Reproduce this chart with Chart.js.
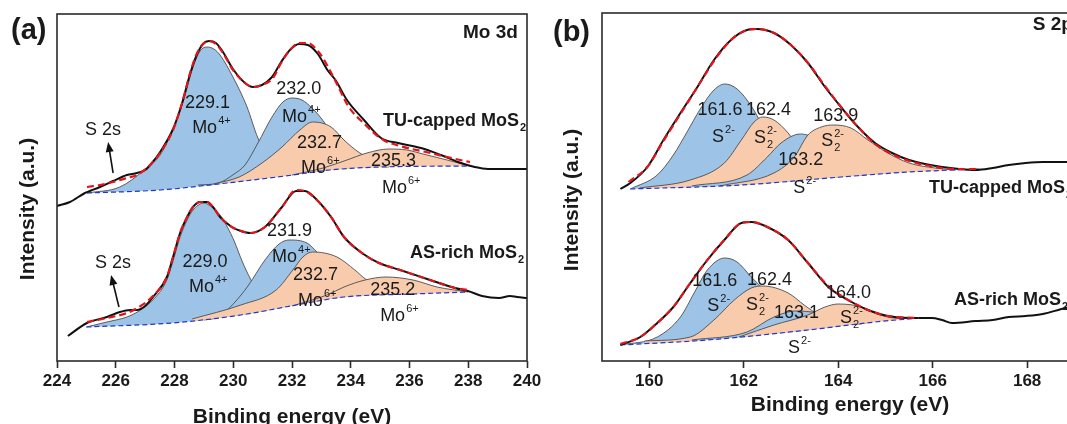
<!DOCTYPE html>
<html>
<head>
<meta charset="utf-8">
<script src="https://cdn.jsdelivr.net/npm/chart.js@4.4.1/dist/chart.umd.min.js"></script>
<style>
  html, body { margin: 0; padding: 0; width: 1067px; height: 424px; overflow: hidden; background: #fff; }
  canvas { position: absolute; top: 0; }
  #moChart { left: 0; }
  #sChart { left: 550px; }
</style>
</head>
<body>
<canvas id="moChart" width="545" height="424"></canvas>
<canvas id="sChart" width="580" height="424"></canvas>
<script>
// ---- Mo 3d panel: [binding energy (eV), intensity (a.u.)] ----
const moTicks = [224, 226, 228, 230, 232, 234, 236, 238, 240];

const tuMoRaw = [[224.00,155],[224.44,159],[224.95,168],[225.12,170],[225.46,174],[225.91,180],[226.38,186],[226.72,188],[227.00,191],[227.23,198],[227.51,209],[227.95,232],[228.26,258],[228.53,287],[228.77,307],[228.97,317],[229.17,320],[229.41,318],[229.65,309],[229.99,292],[230.40,278],[230.67,274],[230.98,276],[231.32,284],[231.63,299],[231.93,311],[232.24,317],[232.54,316],[232.88,307],[233.23,290],[233.48,281],[233.87,261],[234.45,241],[235.03,223],[235.61,218],[236.39,213],[237.07,206],[237.65,199],[238.22,194],[238.67,192],[239.25,192],[240.00,192]];
const tuMoFit = [[225.02,174],[225.46,176],[225.91,179],[226.38,183],[226.72,186],[227.06,193],[227.51,208],[227.95,231],[228.26,258],[228.53,288],[228.77,308],[228.97,317],[229.17,320],[229.41,317],[229.65,308],[229.99,291],[230.40,278],[230.67,274],[230.98,276],[231.35,283],[231.63,298],[231.93,311],[232.24,318],[232.54,318],[232.88,310],[233.23,294],[233.58,274],[233.91,255],[234.43,238],[235.11,221],[235.68,215],[236.70,208],[237.72,201],[238.06,199]];
const tuMoBase = [[225.02,168],[227.51,171],[229.79,178],[232.03,186],[233.29,191],[235.00,194],[238.06,195]];
const tuMoPeak1 = [[225.02,168],[226.14,174],[226.93,190],[227.51,206],[227.95,232],[228.29,259],[228.63,294],[228.87,310],[229.10,314],[229.34,312],[229.55,306],[229.99,284],[230.47,254],[230.84,223],[231.25,203],[231.76,193],[232.30,188],[233.00,190]];
const tuMoPeak2 = [[228.80,176],[229.50,178],[230.03,187],[230.40,196],[230.84,218],[231.32,244],[231.69,259],[232.00,263],[232.34,261],[232.68,253],[233.09,239],[233.46,221],[233.91,203],[234.49,196],[235.30,194]];
const tuMoPeak3 = [[229.34,177],[230.20,184],[230.98,198],[231.66,214],[232.27,231],[232.70,239],[233.33,234],[233.77,221],[234.31,208],[235.00,199],[235.68,195]];
const tuMoPeak4 = [[232.00,186],[233.06,193],[233.87,201],[234.55,208],[235.30,212],[235.91,211],[236.46,207],[237.28,201],[238.06,195]];

const asMoRaw = [[224.37,25],[225.02,38],[225.70,44],[226.14,49],[226.49,51],[226.72,51],[227.00,55],[227.27,64],[227.74,84],[227.95,104],[228.19,128],[228.43,144],[228.63,154],[228.87,159],[229.11,159],[229.31,154],[229.55,144],[229.95,134],[230.26,130],[230.57,128],[231.08,134],[231.66,154],[232.14,170],[232.44,170],[232.85,161],[233.33,144],[233.77,124],[234.38,108],[234.96,98],[235.68,91],[236.70,81],[237.55,73],[237.99,70],[238.47,65],[239.05,63],[239.42,65],[239.66,64],[240.00,63]];
const asMoFit = [[225.02,39],[225.70,43],[226.38,48],[226.79,54],[227.23,64],[227.74,84],[227.95,104],[228.19,128],[228.43,144],[228.63,154],[228.87,159],[229.11,159],[229.31,154],[229.55,144],[229.95,134],[230.26,130],[230.57,128],[231.08,134],[231.66,154],[232.14,171],[232.44,170],[232.85,161],[233.33,144],[233.77,124],[234.38,108],[234.96,98],[235.68,91],[236.70,81],[237.55,73],[237.99,71]];
const asMoBase = [[225.00,34],[227.91,38],[230.26,46],[232.14,56],[233.77,64],[236.12,67],[237.99,69]];
const asMoPeak1 = [[225.00,34],[225.70,39],[226.38,44],[226.79,50],[227.23,60],[227.74,81],[227.95,100],[228.19,124],[228.43,141],[228.63,151],[228.87,157],[229.00,158],[229.11,157],[229.31,153],[229.55,146],[229.80,134],[230.03,120],[230.30,100],[230.57,83],[231.00,63],[231.50,54],[232.00,56]];
const asMoPeak2 = [[229.00,41],[229.50,44],[230.03,58],[230.50,75],[231.08,101],[231.56,117],[231.90,121],[232.51,118],[232.78,111],[233.29,96],[233.80,81],[234.38,71],[234.99,66]];
const asMoPeak3 = [[228.60,42],[230.26,56],[231.46,71],[232.03,91],[232.37,104],[232.70,109],[233.53,104],[234.14,91],[234.55,81],[235.33,73],[236.36,68]];
const asMoPeak4 = [[232.00,55],[233.19,66],[233.77,74],[234.49,81],[235.20,84],[236.12,81],[236.94,74],[237.99,69]];

// ---- S 2p panel ----
const sTicks = [160, 162, 164, 166, 168];

const tuSRaw = [[159.39,172],[159.60,178],[159.96,194],[160.30,221],[160.66,248],[161.02,274],[161.37,301],[161.73,321],[162.07,331],[162.28,332],[162.64,328],[163.00,316],[163.36,298],[163.72,274],[164.06,254],[164.42,234],[164.78,218],[165.14,208],[165.50,201],[165.84,197],[166.20,194],[166.56,192],[166.91,191],[167.27,193],[167.61,196],[167.97,198],[168.33,199],[168.82,199],[169.50,199]];
const tuSFit = [[159.56,179],[159.96,194],[160.30,220],[160.66,247],[161.02,274],[161.37,300],[161.73,321],[162.07,331],[162.28,332],[162.64,328],[163.00,316],[163.36,298],[163.72,275],[164.06,254],[164.42,234],[164.78,217],[165.14,207],[165.50,200],[165.84,196],[166.20,193],[166.56,192],[166.98,192]];
const tuSBase = [[159.60,172],[161.95,176],[164.06,184],[165.50,189],[166.98,192]];
const tuSPeak1 = [[159.60,172],[160.17,186],[160.51,206],[160.80,229],[161.08,252],[161.37,271],[161.60,277],[161.86,272],[162.16,255],[162.43,233],[162.75,212],[163.17,194],[163.59,186],[164.02,184]];
const tuSPeak2 = [[159.80,173],[160.87,181],[161.59,198],[161.95,221],[162.22,239],[162.40,244],[162.64,241],[162.94,228],[163.17,213],[163.49,198],[163.91,187],[164.60,186]];
const tuSPeak3 = [[160.90,175],[162.07,186],[162.50,204],[162.79,218],[163.20,227],[163.57,221],[163.85,208],[164.21,196],[164.78,190],[165.30,189]];
const tuSPeak4 = [[161.50,175],[162.64,188],[163.07,204],[163.36,226],[163.64,234],[163.90,236],[164.27,233],[164.63,221],[165.05,208],[165.50,198],[166.05,193],[166.49,191]];

const asSRaw = [[159.39,16],[159.81,24],[160.17,38],[160.51,54],[160.87,78],[161.23,101],[161.59,121],[161.95,138],[162.16,139],[162.50,134],[162.94,121],[163.36,98],[163.79,74],[164.21,61],[164.63,51],[165.05,45],[165.50,43],[165.98,43],[166.20,41],[166.41,38],[166.91,40],[167.27,41],[167.61,44],[167.97,45],[168.33,47],[168.82,53],[169.50,58]];
const asSFit = [[159.39,17],[159.81,24],[160.17,38],[160.51,54],[160.87,78],[161.23,101],[161.59,121],[161.95,138],[162.16,139],[162.50,134],[162.94,121],[163.36,98],[163.79,75],[164.21,61],[164.63,51],[165.05,45],[165.71,43]];
const asSBase = [[159.39,16],[161.23,21],[163.36,31],[164.78,39],[165.71,43]];
const asSPeak1 = [[159.39,16],[160.17,24],[160.66,44],[160.95,68],[161.23,91],[161.60,103],[161.86,99],[162.16,84],[162.37,74],[162.75,56],[163.17,43],[163.81,35]];
const asSPeak2 = [[159.90,20],[160.87,24],[161.37,41],[161.80,61],[162.16,73],[162.40,75],[162.94,68],[163.28,56],[163.59,46],[164.12,37],[164.50,37]];
const asSPeak3 = [[160.90,21],[162.07,29],[162.64,44],[163.10,50],[163.57,48],[163.85,44],[164.27,39],[164.60,38]];
const asSPeak4 = [[161.90,24],[162.64,36],[163.36,46],[163.72,54],[164.00,57],[164.50,54],[164.78,48],[165.20,43],[165.71,43]];

// peak labels, in data coordinates (left edge / baseline of the text)
const moLabels = [
  {x: 224.95, y: 226, text: 'S 2s'},
  {x: 228.36, y: 253, text: '229.1'},
  {x: 228.60, y: 228, text: 'Mo^{4+}'},
  {x: 231.46, y: 267, text: '232.0'},
  {x: 231.66, y: 239, text: 'Mo^{4+}'},
  {x: 232.17, y: 213, text: '232.7'},
  {x: 232.31, y: 188, text: 'Mo^{6+}'},
  {x: 234.69, y: 195, text: '235.3'},
  {x: 235.06, y: 168, text: 'Mo^{6+}'},
  {x: 235.10, y: 235, text: 'TU-capped MoS_{2}', bold: true},
  {x: 239.69, y: 323, text: 'Mo 3d', bold: true, size: 19, align: 'right'},
  {x: 225.29, y: 93, text: 'S 2s'},
  {x: 228.27, y: 94, text: '229.0'},
  {x: 228.49, y: 69, text: 'Mo^{4+}'},
  {x: 231.15, y: 125, text: '231.9'},
  {x: 231.32, y: 99, text: 'Mo^{4+}'},
  {x: 232.03, y: 81, text: '232.7'},
  {x: 232.20, y: 55, text: 'Mo^{6+}'},
  {x: 234.66, y: 66, text: '235.2'},
  {x: 235.00, y: 40, text: 'Mo^{6+}'},
  {x: 236.02, y: 103, text: 'AS-rich MoS_{2}', bold: true}
];
const moArrows = [
  {from: [225.91, 188], to: [225.74, 219]},
  {from: [226.11, 54], to: [225.84, 86]}
];

const sLabels = [
  {x: 161.02, y: 246, text: '161.6'},
  {x: 162.05, y: 246, text: '162.4'},
  {x: 161.33, y: 219, text: 'S^{2-}'},
  {x: 162.22, y: 218, text: 'S_{2}^{2-}'},
  {x: 163.47, y: 240, text: '163.9'},
  {x: 163.64, y: 215, text: 'S_{2}^{2-}'},
  {x: 162.73, y: 196, text: '163.2'},
  {x: 163.05, y: 168, text: 'S^{2-}'},
  {x: 165.92, y: 168, text: 'TU-capped MoS_{2}', bold: true},
  {x: 168.12, y: 331, text: 'S 2p', bold: true, size: 19},
  {x: 160.91, y: 75, text: '161.6'},
  {x: 162.07, y: 76, text: '162.4'},
  {x: 161.23, y: 50, text: 'S^{2-}'},
  {x: 162.05, y: 51, text: 'S_{2}^{2-}'},
  {x: 163.74, y: 63, text: '164.0'},
  {x: 164.04, y: 38, text: 'S_{2}^{2-}'},
  {x: 162.64, y: 43, text: '163.1'},
  {x: 162.94, y: 8, text: 'S^{2-}'},
  {x: 166.45, y: 56, text: 'AS-rich MoS_{2}', bold: true}
];

const FONT = '"Liberation Sans", Arial, sans-serif';
const BLUE = 'rgb(157,195,230)';
const PEACH = 'rgb(248,203,173)';
const INK = '#1a1a1a';

Chart.defaults.font.family = FONT;
Chart.defaults.color = INK;

// text with ^{sup} and _{sub} parts; a sub followed by a sup is stacked
function drawRichText(ctx, x, y, text, opt) {
  const size = opt.size || 18;
  const weight = opt.bold ? 'bold ' : '';
  const small = Math.round(size * 0.62);
  const runs = [];
  text.replace(/([\^_])\{([^}]*)\}|([^\^_]+)/g, (m, mark, inner, plain) => {
    if (plain) runs.push({text: plain, kind: 'base'});
    else runs.push({text: inner, kind: mark === '^' ? 'sup' : 'sub'});
    return m;
  });
  const fontFor = (kind) => weight + (kind === 'base' ? size : small) + 'px ' + FONT;

  let cursor = 0;
  const placed = [];
  for (let i = 0; i < runs.length; i++) {
    const r = runs[i];
    ctx.font = fontFor(r.kind);
    const w = ctx.measureText(r.text).width;
    const next = runs[i + 1];
    const gap = r.kind === 'base' ? 0 : 1;
    placed.push({...r, x: cursor + gap});
    if (r.kind !== 'base' && next && next.kind !== 'base' && next.kind !== r.kind) {
      ctx.font = fontFor(next.kind);
      const w2 = ctx.measureText(next.text).width;
      placed.push({...next, x: cursor + gap});
      cursor += Math.max(w, w2) + gap;
      i++;
    } else {
      cursor += w + gap;
    }
  }
  let start = x;
  if (opt.align === 'right') start = x - cursor;
  if (opt.align === 'center') start = x - cursor / 2;

  ctx.fillStyle = INK;
  ctx.textAlign = 'left';
  ctx.textBaseline = 'alphabetic';
  for (const p of placed) {
    ctx.font = fontFor(p.kind);
    let dy = 0;
    if (p.kind === 'sup') dy = -0.52 * size;
    if (p.kind === 'sub') dy = 0.3 * size;
    ctx.fillText(p.text, start + p.x, y + dy);
  }
}

function drawArrow(ctx, x1, y1, x2, y2) {
  const a = Math.atan2(y2 - y1, x2 - x1);
  const len = 10, half = 4;
  ctx.strokeStyle = '#111';
  ctx.fillStyle = '#111';
  ctx.lineWidth = 1.6;
  ctx.beginPath();
  ctx.moveTo(x1, y1);
  ctx.lineTo(x2 - len * 0.7 * Math.cos(a), y2 - len * 0.7 * Math.sin(a));
  ctx.stroke();
  ctx.beginPath();
  ctx.moveTo(x2, y2);
  ctx.lineTo(x2 - len * Math.cos(a) + half * Math.sin(a), y2 - len * Math.sin(a) - half * Math.cos(a));
  ctx.lineTo(x2 - len * Math.cos(a) - half * Math.sin(a), y2 - len * Math.sin(a) + half * Math.cos(a));
  ctx.closePath();
  ctx.fill();
}

// frame, peak labels, arrows, panel tag and vertical axis title
function makeDecorations(labels, arrows, tag, yTitle) {
  return {
    id: 'decorations',
    afterDraw(chart) {
      const {ctx, chartArea: area, scales: {x, y}} = chart;
      ctx.save();
      ctx.strokeStyle = '#2b2b2b';
      ctx.lineWidth = 1.6;
      ctx.strokeRect(area.left, area.top, area.right - area.left, area.bottom - area.top);

      for (const a of arrows) {
        drawArrow(ctx, x.getPixelForValue(a.from[0]), y.getPixelForValue(a.from[1]),
          x.getPixelForValue(a.to[0]), y.getPixelForValue(a.to[1]));
      }
      for (const l of labels) {
        drawRichText(ctx, x.getPixelForValue(l.x), y.getPixelForValue(l.y), l.text, l);
      }

      ctx.fillStyle = INK;
      ctx.font = 'bold 29px ' + FONT;
      ctx.textAlign = 'left';
      ctx.fillText(tag.text, tag.x, tag.y);

      ctx.translate(yTitle.x, yTitle.y);
      ctx.rotate(-Math.PI / 2);
      ctx.font = 'bold 21px ' + FONT;
      ctx.textAlign = 'center';
      ctx.textBaseline = 'alphabetic';
      ctx.fillText('Intensity (a.u.)', 0, 0);
      ctx.restore();
    }
  };
}

function spectrumSets(raw, fit, base, peaks, fills, first) {
  const baseIndex = first + 2;
  const common = {pointRadius: 0, cubicInterpolationMode: 'monotone', fill: false};
  const sets = [
    {...common, data: raw, borderColor: '#111', borderWidth: 2, order: 2},
    {...common, data: fit, borderColor: '#e3151b', borderWidth: 2.2, borderDash: [7, 4], order: 1},
    {...common, data: base, borderColor: '#2436c8', borderWidth: 1.2, borderDash: [5, 3], order: 3}
  ];
  peaks.forEach((p, i) => {
    sets.push({
      ...common,
      data: p,
      borderColor: '#4d4d4d',
      borderWidth: 0.9,
      backgroundColor: fills[i],
      fill: {target: baseIndex},
      order: 7 - i
    });
  });
  return sets;
}

function xScale(min, max, ticks, titlePadBottom) {
  return {
    type: 'linear',
    min: min,
    max: max,
    afterBuildTicks: (s) => { s.ticks = ticks.map((v) => ({value: v})); },
    afterFit: (s) => { s.height = 63; s.paddingLeft = 0; s.paddingRight = 0; },
    ticks: {font: {size: 17, weight: 'bold'}, color: INK, padding: 3, maxRotation: 0, autoSkip: false},
    grid: {display: true, drawOnChartArea: false, drawTicks: true, tickLength: 7, tickWidth: 1.6, tickColor: '#2b2b2b'},
    border: {display: false},
    title: {
      display: true,
      text: 'Binding energy (eV)',
      color: INK,
      font: {size: 21, weight: 'bold', lineHeight: 1},
      padding: {top: 0, bottom: titlePadBottom}
    }
  };
}

function drawPanel(canvasId, datasets, scaleX, yMax, padding, decorations) {
  const ctx = document.getElementById(canvasId).getContext('2d');
  return new Chart(ctx, {
    type: 'line',
    data: {datasets: datasets},
    options: {
      responsive: false,
      animation: false,
      events: [],
      layout: {padding: padding},
      plugins: {legend: {display: false}, tooltip: {enabled: false}},
      scales: {
        x: scaleX,
        y: {display: false, min: 0, max: yMax}
      }
    },
    plugins: [decorations]
  });
}

window.addEventListener('load', () => {
  const fills = [BLUE, BLUE, PEACH, PEACH];
  const moSets = spectrumSets(tuMoRaw, tuMoFit, tuMoBase, [tuMoPeak1, tuMoPeak2, tuMoPeak3, tuMoPeak4], fills, 0)
    .concat(spectrumSets(asMoRaw, asMoFit, asMoBase, [asMoPeak1, asMoPeak2, asMoPeak3, asMoPeak4], fills, 7));
  drawPanel('moChart', moSets, xScale(224, 240, moTicks, -4), 347,
    {left: 57, right: 18, top: 14, bottom: 0},
    makeDecorations(moLabels, moArrows, {text: '(a)', x: 11, y: 39}, {x: 34, y: 209}));

  const sFills = [BLUE, PEACH, BLUE, PEACH];
  const sSets = spectrumSets(tuSRaw, tuSFit, tuSBase, [tuSPeak1, tuSPeak2, tuSPeak3, tuSPeak4], sFills, 0)
    .concat(spectrumSets(asSRaw, asSFit, asSBase, [asSPeak1, asSPeak2, asSPeak3, asSPeak4], sFills, 7));
  drawPanel('sChart', sSets, xScale(159, 169.5, sTicks, 8), 348,
    {left: 52, right: 32, top: 13, bottom: 0},
    makeDecorations(sLabels, [], {text: '(b)', x: 3, y: 41}, {x: 28, y: 200}));
});
</script>
</body>
</html>
